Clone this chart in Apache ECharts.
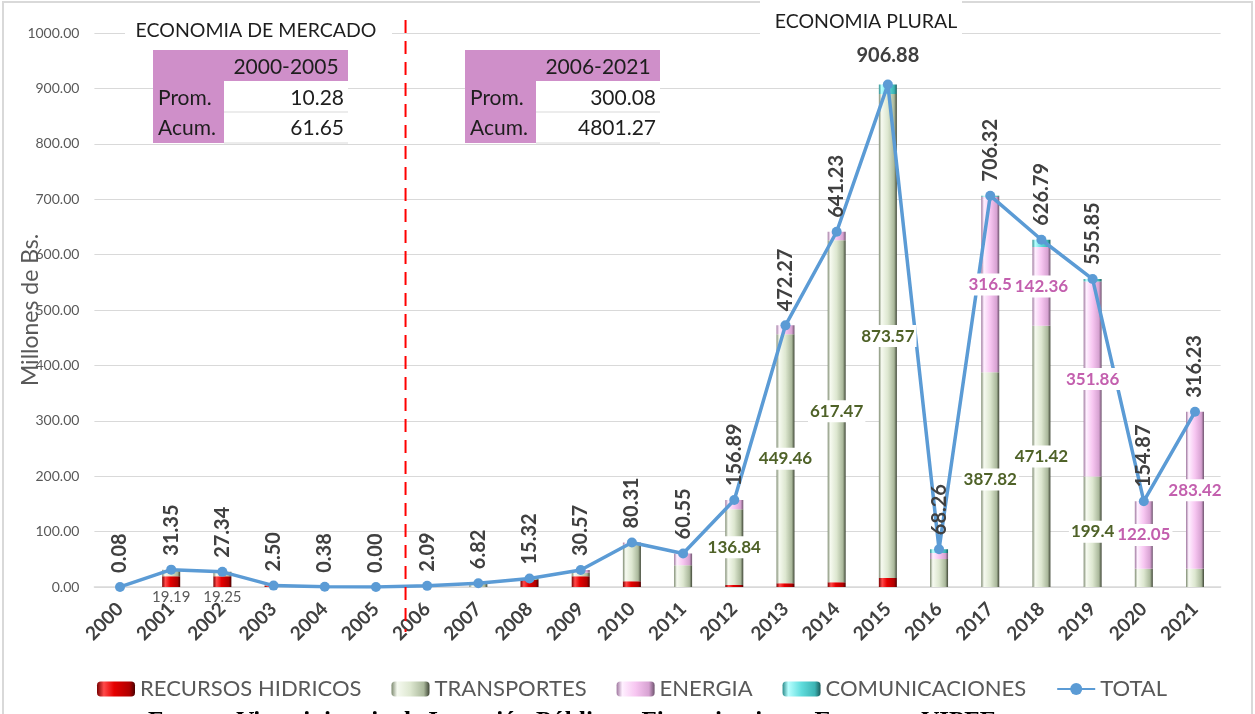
<!DOCTYPE html>
<html>
<head>
<meta charset="utf-8">
<script src="https://cdn.jsdelivr.net/npm/echarts@6/dist/echarts.min.js"></script>
<style>
html,body{margin:0;padding:0;background:#fff;}
#c{width:1255px;height:714px;}
</style>
</head>
<body>
<div id="c"></div>
<script>
const years = ['2000','2001','2002','2003','2004','2005','2006','2007','2008','2009','2010','2011','2012','2013','2014','2015','2016','2017','2018','2019','2020','2021'];
const recursosHidricos = [0.08,19.19,19.25,2.50,0.38,0,0,0,12.5,19.3,10.5,0,3.5,6.8,8.5,16.2,0,0,0,0,0,0];
const transportes = [0,12.16,8.09,0,0,0,2.09,6.82,2.82,6.27,65.81,39.05,136.84,449.46,617.47,873.57,50.5,387.82,471.42,199.4,32.82,32.81];
const energia = [0,0,0,0,0,0,0,0,0,5.0,4.0,21.5,16.55,16.01,15.26,0,11.0,316.5,142.36,351.86,122.05,283.42];
const comunicaciones = [0,0,0,0,0,0,0,0,0,0,0,0,0,0,0,17.11,6.76,2.0,13.01,4.59,0,0];
const total = [0.08,31.35,27.34,2.50,0.38,0.00,2.09,6.82,15.32,30.57,80.31,60.55,156.89,472.27,641.23,906.88,68.26,706.32,626.79,555.85,154.87,316.23];
const yTicks = {min:0, max:1000, interval:100};
const tableLeft = ['2000-2005','10.28','61.65'];
const tableRight = ['2006-2021','300.08','4801.27'];
const rowNames = ['Prom.','Acum.'];
const periodTitles = ['ECONOMIA DE MERCADO','ECONOMIA PLURAL'];
const sourceText = 'Fuente: Viceministerio de Inversión Pública y Financiamiento Externo - VIPFE';

const FONT = 'Lato, "Open Sans", sans-serif';
function cyl(stops){
  return new echarts.graphic.LinearGradient(0,0,1,0, stops.map(c=>({offset:c[0], color:c[1]})));
}
const colRec = cyl([[0,'#7a0000'],[0.18,'#ff4a4a'],[0.45,'#e60000'],[0.85,'#b00000'],[1,'#4a0000']]);
const colTra = cyl([[0,'#7d8a70'],[0.15,'#f6faf0'],[0.5,'#dde7d0'],[0.85,'#aab89b'],[1,'#3f4636']]);
const colEne = cyl([[0,'#9e769e'],[0.15,'#fff0ff'],[0.5,'#f7c6f1'],[0.85,'#d7a2d2'],[1,'#6e546e']]);
const colCom = cyl([[0,'#2a8c8c'],[0.15,'#b8ffff'],[0.5,'#5fdcdc'],[0.85,'#3cb4b4'],[1,'#1c5c5c']]);

const BW = 18;
const lblBase = {show:true, position:'inside', fontFamily:FONT, fontSize:17, fontWeight:'bold', backgroundColor:'#ffffff', padding:[3,2,2,2]};

const chart = echarts.init(document.getElementById('c'), null, {renderer:'canvas'});
const option = {
  animation:false,
  textStyle:{fontFamily:FONT},
  grid:{left:94.4, right:34.4, top:33, bottom:127, outerBoundsMode:'none'},
  legend:{
    left:92, top:673, itemWidth:38, itemHeight:15, itemGap:30, selectedMode:false,
    textStyle:{fontSize:22, color:'#595959', fontFamily:FONT},
    data:['RECURSOS HIDRICOS','TRANSPORTES','ENERGIA','COMUNICACIONES','TOTAL']
  },
  xAxis:{
    type:'category', data:years,
    axisLine:{lineStyle:{color:'#d9d9d9', width:1.5}},
    axisTick:{show:false},
    axisLabel:{rotate:45, fontSize:19, fontWeight:'bold', color:'#404040', margin:19, interval:0}
  },
  yAxis:{
    type:'value', min:yTicks.min, max:yTicks.max, interval:yTicks.interval,
    name:'Millones de Bs.', nameLocation:'middle', nameGap:52, nameMoveOverlap:false,
    nameTextStyle:{fontSize:23, color:'#595959'},
    axisLine:{show:false}, axisTick:{show:false},
    axisLabel:{formatter:v=>v.toFixed(2), fontSize:14, color:'#595959', margin:15},
    splitLine:{lineStyle:{color:'#d9d9d9', width:1.2}}
  },
  series:[
    {name:'RECURSOS HIDRICOS', type:'bar', stack:'s', barWidth:BW, data:recursosHidricos, itemStyle:{color:colRec}},
    {name:'TRANSPORTES', type:'bar', stack:'s', barWidth:BW, data:transportes, itemStyle:{color:colTra}},
    {name:'ENERGIA', type:'bar', stack:'s', barWidth:BW, data:energia, itemStyle:{color:colEne}},
    {name:'COMUNICACIONES', type:'bar', stack:'s', barWidth:BW, data:comunicaciones, itemStyle:{color:colCom}},
    {name:'TOTAL', type:'line', z:4, data:total.map(v=>({
        value:v,
        label: v>900 ? {rotate:0, align:'center', verticalAlign:'bottom', distance:14} : {}
      })),
      symbol:'circle', symbolSize:10,
      lineStyle:{color:'#5b9bd5', width:3.5}, itemStyle:{color:'#5b9bd5'},
      label:{show:true, position:'top', rotate:90, align:'left', verticalAlign:'middle', distance:9,
        fontSize:20, fontWeight:'bold', color:'#404040', formatter:p=>p.value.toFixed(2)}
    },
    {name:'lblRec', type:'bar', stack:'l', barWidth:BW, barGap:'-100%', z:6, silent:true,
      itemStyle:{color:'rgba(0,0,0,0)'},
      data:recursosHidricos.map((v,i)=>({value:v, label:{show: i<6 && v>10}})),
      label:{show:false, position:'bottom', distance:3, fontSize:15, color:'#595959', fontFamily:FONT, formatter:p=>String(p.value)}},
    {name:'lblTra', type:'bar', stack:'l', barWidth:BW, barGap:'-100%', z:6, silent:true,
      itemStyle:{color:'rgba(0,0,0,0)'},
      data:transportes.map(v=>({value:v, label:{show: v>=100}})),
      label:Object.assign({}, lblBase, {show:false, color:'#4f6228', formatter:p=>String(p.value)})},
    {name:'lblEne', type:'bar', stack:'l', barWidth:BW, barGap:'-100%', z:6, silent:true,
      itemStyle:{color:'rgba(0,0,0,0)'},
      data:energia.map(v=>({value:v, label:{show: v>=100}})),
      label:Object.assign({}, lblBase, {show:false, color:'#c35fae', formatter:p=>String(p.value)})}
  ]
};
chart.setOption(option);

const purple = '#cf8fc9';
function table(x0, vals){
  const hx = x0 + 71, w = 195, right = x0 + w;
  const els = [];
  els.push({type:'rect', shape:{x:hx, y:81, width:right-hx, height:62}, style:{fill:'#fff'}, z:10});
  els.push({type:'rect', shape:{x:x0, y:50, width:w, height:31}, style:{fill:purple}, z:11});
  els.push({type:'rect', shape:{x:x0, y:50, width:71, height:93}, style:{fill:purple}, z:11});
  els.push({type:'line', shape:{x1:hx, y1:112, x2:right, y2:112}, style:{stroke:'#d9d9d9', lineWidth:1}, z:11});
  els.push({type:'line', shape:{x1:hx, y1:143, x2:right, y2:143}, style:{stroke:'#d9d9d9', lineWidth:1}, z:11});
  const ts = {fontFamily:FONT, fontSize:21, fill:'#1e1e1e'};
  els.push({type:'text', x:(hx+right)/2, y:67, style:Object.assign({text:vals[0], align:'center', verticalAlign:'middle'}, ts), z:12});
  els.push({type:'text', x:x0+5, y:98, style:Object.assign({text:rowNames[0], align:'left', verticalAlign:'middle'}, ts), z:12});
  els.push({type:'text', x:x0+5, y:128, style:Object.assign({text:rowNames[1], align:'left', verticalAlign:'middle'}, ts), z:12});
  els.push({type:'text', x:right-4, y:98, style:Object.assign({text:vals[1], align:'right', verticalAlign:'middle'}, ts), z:12});
  els.push({type:'text', x:right-4, y:128, style:Object.assign({text:vals[2], align:'right', verticalAlign:'middle'}, ts), z:12});
  return els;
}
const p5 = chart.convertToPixel({xAxisIndex:0}, '2005');
const p6 = chart.convertToPixel({xAxisIndex:0}, '2006');
const divX = (p5 + p6)/2 + 4;
const g = [];
g.push({type:'rect', shape:{x:3, y:2, width:1249, height:730}, style:{fill:'none', stroke:'#d9d9d9', lineWidth:2}, z:1, silent:true});
g.push({type:'rect', shape:{x:125, y:18, width:267, height:26}, style:{fill:'#fff'}, z:10});
g.push({type:'text', x:256, y:31, style:{text:periodTitles[0], align:'center', verticalAlign:'middle', fontFamily:FONT, fontSize:19.5, fill:'#1e1e1e'}, z:12});
g.push({type:'rect', shape:{x:760, y:0, width:202, height:36}, style:{fill:'#fff'}, z:10});
g.push({type:'text', x:866, y:22, style:{text:periodTitles[1], align:'center', verticalAlign:'middle', fontFamily:FONT, fontSize:19.5, fill:'#1e1e1e'}, z:12});
g.push(...table(153, tableLeft));
g.push(...table(465, tableRight));
g.push({type:'line', shape:{x1:divX, y1:20, x2:divX, y2:632}, style:{stroke:'#ff0000', lineWidth:2, lineDash:[13,8]}, z:20});
g.push({type:'text', x:148, y:710, style:{text:sourceText, fontFamily:'"Liberation Serif", serif', fontSize:25, fontWeight:'bold', fill:'#000', verticalAlign:'top'}, z:12});
chart.setOption({graphic:g});
</script>
</body>
</html>
